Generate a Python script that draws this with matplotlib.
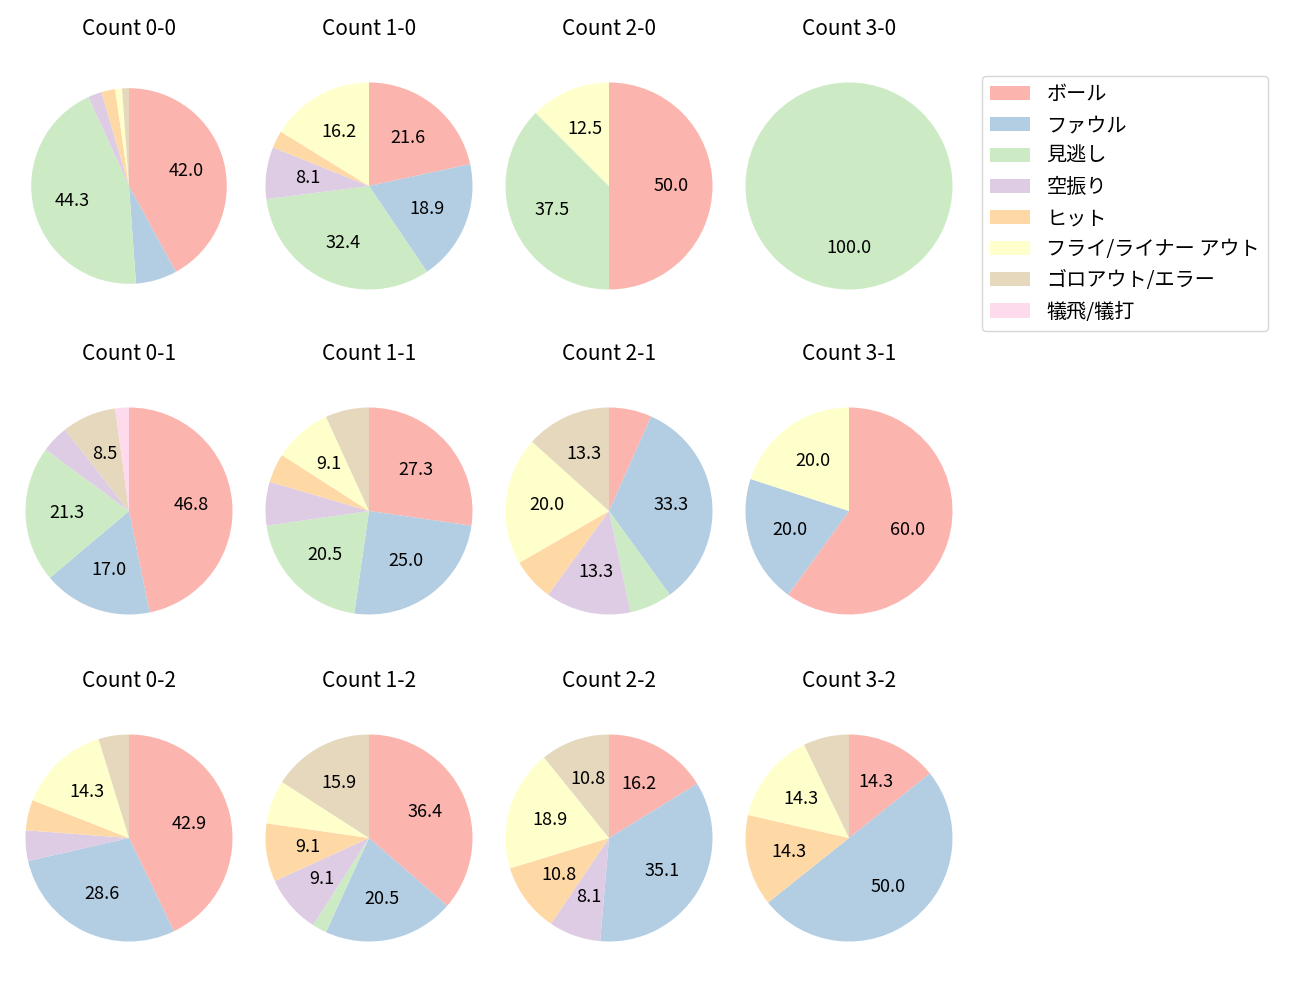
import matplotlib
matplotlib.use("Agg")
import matplotlib.pyplot as plt
from matplotlib.patches import Patch

plt.rcParams['font.family'] = ['Noto Sans CJK JP', 'DejaVu Sans']

# categories (legend order)
categories = ['ボール', 'ファウル', '見逃し', '空振り', 'ヒット',
              'フライ/ライナー アウト', 'ゴロアウト/エラー', '犠飛/犠打']
colors = plt.cm.Pastel1.colors[:8]

# pitch counts per ball-strike count, same order as categories
c00 = [37, 6, 39, 2, 2, 1, 1, 0]
c10 = [8, 7, 12, 3, 1, 6, 0, 0]
c20 = [4, 0, 3, 0, 0, 1, 0, 0]
c30 = [0, 0, 1, 0, 0, 0, 0, 0]
c01 = [22, 8, 10, 2, 0, 0, 4, 1]
c11 = [12, 11, 9, 3, 2, 4, 3, 0]
c21 = [1, 5, 1, 2, 1, 3, 2, 0]
c31 = [3, 1, 0, 0, 0, 1, 0, 0]
c02 = [9, 6, 0, 1, 1, 3, 1, 0]
c12 = [16, 9, 1, 4, 4, 3, 7, 0]
c22 = [6, 13, 0, 3, 4, 7, 4, 0]
c32 = [2, 7, 0, 0, 2, 2, 1, 0]

panels = [
    ['0-0', c00], ['1-0', c10], ['2-0', c20], ['3-0', c30],
    ['0-1', c01], ['1-1', c11], ['2-1', c21], ['3-1', c31],
    ['0-2', c02], ['1-2', c12], ['2-2', c22], ['3-2', c32],
]

W, H = 1300, 1000
cx = [129, 369, 609, 849]   # pie centres, pixels
cy = [186, 511, 838]
r = 103.5                   # pie radius, pixels
side = 2.5 * r

fig = plt.figure(figsize=(13, 10), dpi=100)

for i, (name, vals) in enumerate(panels):
    row, col = divmod(i, 4)
    ax = fig.add_axes([(cx[col] - side / 2) / W, (H - cy[row] - side / 2) / H,
                       side / W, side / H])
    rad = 0.945 if name == '0-0' else 1.0
    ax.pie(vals, colors=colors, startangle=90, counterclock=False, radius=rad,
           autopct=lambda p: '%.1f' % p if p > 7.5 else '',
           textprops={'fontsize': 13})
    ax.set_xlim(-1.25, 1.25)
    ax.set_ylim(-1.25, 1.25)
    ax.set_title('Count ' + name, fontsize=15, pad=15.5)

handles = [Patch(facecolor=c) for c in colors]
fig.legend(handles, categories, loc='upper left', bbox_to_anchor=(982 / W, 1 - 76 / H),
           borderaxespad=0, fontsize=14.5)

plt.savefig('out.png', dpi=100)
plt.close(fig)
